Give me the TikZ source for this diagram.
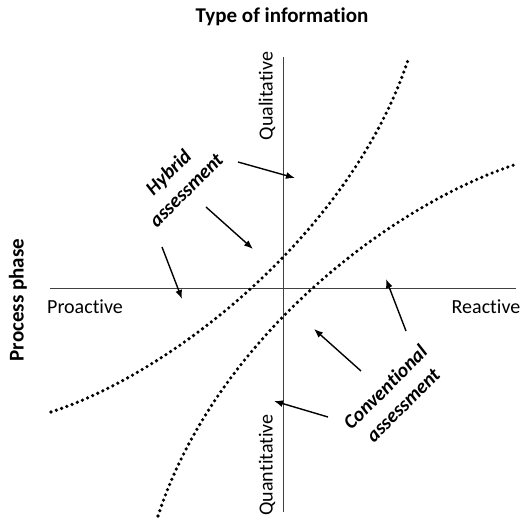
\documentclass[tikz,border=0pt]{standalone}
\usepackage{fontspec}
\setmainfont[Ligatures=NoCommon]{Carlito}
\usetikzlibrary{arrows.meta}
\begin{document}
\begin{tikzpicture}[x=1pt,y=-1pt,
  axis/.style={line width=0.9pt, black!75},
  dotcurve/.style={line width=3.6pt, line cap=round, dash pattern=on 0pt off 5.6pt},
  pointer/.style={line width=1.4pt, -{Latex[length=9pt,width=7pt]}},
  lbl/.style={font=\fontsize{20}{22}\selectfont, inner sep=0pt},
  bold/.style={font=\fontsize{21}{23}\selectfont\bfseries, inner sep=0pt},
  region/.style={font=\fontsize{20}{25}\selectfont\bfseries\itshape, align=center, inner sep=0pt, rotate=45}]
\useasboundingbox (0,0) rectangle (521,525);
% axes
\coordinate (vt) at (283,57);
\coordinate (vb) at (283,512);
\coordinate (hl) at (50,288);
\coordinate (hr) at (516,288);
\draw[axis] (vt) -- (vb);
\draw[axis] (hl) -- (hr);
% labels
\node[bold] (title) at (282,17) {Type of information};
\node[bold, rotate=90] (phase) at (18,300) {Process phase};
\node[lbl, rotate=90] (qual) at (267,96) {Qualitative};
\node[lbl, rotate=90] (quant) at (267,465) {Quantitative};
\node[lbl, anchor=base] (pro) at (85,313) {Proactive};
\node[lbl, anchor=base] (rea) at (486,313) {Reactive};
% dotted curves
\coordinate (a0) at (51,412);
\coordinate (a3) at (409,57);
\coordinate (b0) at (158,516);
\coordinate (b3) at (517,164);
\draw[dotcurve] (a0) .. controls (180,370) and (355,225) .. (a3);
\draw[dotcurve] (b0) .. controls (215,340) and (390,205) .. (b3);
% region labels
\node[region] (hyb) at (177,181) {Hybrid\\assessment};
\node[region] (conv) at (394,396) {Conventional\\assessment};
% arrows
\coordinate (h1s) at (238,162); \coordinate (h1e) at (295,178);
\coordinate (h2s) at (206,207); \coordinate (h2e) at (253,249);
\coordinate (h3s) at (162,247); \coordinate (h3e) at (182,299);
\coordinate (c1s) at (406,331); \coordinate (c1e) at (386,279);
\coordinate (c2s) at (361,371); \coordinate (c2e) at (314,329);
\coordinate (c3s) at (328,417); \coordinate (c3e) at (274,401);
\draw[pointer] (h1s) -- (h1e);
\draw[pointer] (h2s) -- (h2e);
\draw[pointer] (h3s) -- (h3e);
\draw[pointer] (c1s) -- (c1e);
\draw[pointer] (c2s) -- (c2e);
\draw[pointer] (c3s) -- (c3e);
\end{tikzpicture}
\end{document}
